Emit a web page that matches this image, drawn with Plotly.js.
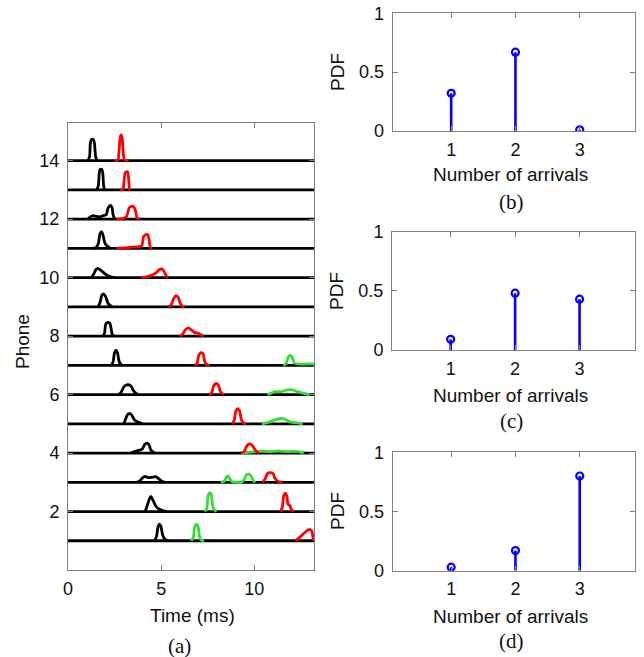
<!DOCTYPE html>
<html><head><meta charset="utf-8">
<script src="https://cdn.plot.ly/plotly-3.0.1.min.js"></script>
<style>html,body{margin:0;padding:0;background:#fff}#chart{width:644px;height:657px}</style>
</head><body><div id="chart"></div><script>
// ---------- Panel (a): pulses per phone, [time ms, amplitude above baseline] ----------
const tMax = 13.2;
const phones = [1,2,3,4,5,6,7,8,9,10,11,12,13,14];
const phoneTicks = [2, 4, 6, 8, 10, 12, 14];
const timeTicks = [0, 5, 10];

const black14 = [[1.08,0],[1.16,0.15],[1.2,0.6],[1.26,0.72],[1.36,0.72],[1.42,0.6],[1.48,0.15],[1.56,0]];
const black13 = [[1.55,0],[1.63,0.15],[1.68,0.6],[1.73,0.7],[1.82,0.7],[1.87,0.55],[1.92,0.1],[1.99,0]];
const black12 = [[1.05,0],[1.2,0.08],[1.35,0.12],[1.5,0.1],[1.7,0.08],[1.9,0.12],[2.05,0.15],[2.15,0.38],[2.28,0.47],[2.36,0.4],[2.43,0.12],[2.52,0]];
const black11 = [[1.3,0],[1.5,0.03],[1.62,0.15],[1.72,0.5],[1.8,0.57],[1.87,0.48],[1.97,0.2],[2.1,0.08],[2.3,0]];
const black10 = [[1.25,0],[1.38,0.12],[1.5,0.28],[1.6,0.32],[1.75,0.26],[1.95,0.15],[2.2,0.05],[2.5,0]];
const black9 = [[1.62,0],[1.72,0.15],[1.82,0.4],[1.92,0.44],[2.02,0.35],[2.15,0.12],[2.32,0.02],[2.4,0]];
const black8 = [[1.88,0],[1.96,0.1],[2.02,0.4],[2.1,0.46],[2.24,0.45],[2.3,0.3],[2.38,0.05],[2.46,0]];
const black7 = [[2.32,0],[2.42,0.12],[2.5,0.45],[2.58,0.52],[2.66,0.42],[2.75,0.12],[2.85,0.03],[2.92,0]];
const black6 = [[2.72,0],[2.85,0.08],[2.98,0.25],[3.1,0.32],[3.28,0.33],[3.4,0.27],[3.55,0.1],[3.75,0]];
const black5 = [[3.0,0],[3.1,0.18],[3.2,0.32],[3.3,0.36],[3.42,0.3],[3.55,0.15],[3.75,0.06],[4.0,0]];
const black4 = [[3.4,0],[3.6,0.06],[3.85,0.1],[4.0,0.15],[4.12,0.3],[4.25,0.34],[4.35,0.28],[4.45,0.1],[4.6,0.02],[4.7,0]];
const black3 = [[3.7,0],[3.85,0.05],[4.0,0.15],[4.14,0.2],[4.3,0.16],[4.5,0.17],[4.7,0.19],[4.85,0.13],[5.0,0.05],[5.2,0]];
const black2 = [[4.15,0],[4.22,0.15],[4.3,0.3],[4.38,0.45],[4.45,0.52],[4.55,0.4],[4.7,0.2],[4.85,0.1],[5.05,0.04],[5.3,0]];
const black1 = [[4.65,0],[4.75,0.15],[4.83,0.48],[4.9,0.57],[4.98,0.5],[5.08,0.2],[5.2,0.05],[5.4,0]];

const red14 = [[2.5,0],[2.68,0.02],[2.74,0.35],[2.8,0.8],[2.85,0.88],[2.9,0.8],[2.96,0.35],[3.02,0.03],[3.25,0]];
const red13 = [[2.8,0],[2.95,0.03],[3.02,0.4],[3.08,0.6],[3.2,0.62],[3.25,0.4],[3.3,0.03],[3.35,0]];
const red12 = [[2.6,0],[3.0,0.03],[3.15,0.1],[3.28,0.38],[3.4,0.44],[3.52,0.42],[3.62,0.3],[3.7,0.05],[3.85,0]];
const red11 = [[2.6,0],[3.2,0.03],[3.6,0.05],[3.95,0.08],[4.05,0.4],[4.15,0.46],[4.28,0.47],[4.35,0.3],[4.42,0.03],[4.5,0]];
const red10 = [[3.95,0],[4.2,0.03],[4.5,0.08],[4.75,0.18],[4.9,0.28],[5.04,0.3],[5.15,0.22],[5.28,0.05],[5.36,0]];
const red9 = [[5.4,0],[5.55,0.08],[5.68,0.3],[5.8,0.38],[5.92,0.32],[6.02,0.12],[6.15,0.02],[6.25,0]];
const red8 = [[6.0,0],[6.15,0.06],[6.3,0.22],[6.47,0.27],[6.65,0.2],[6.8,0.12],[7.0,0.1],[7.15,0.04],[7.28,0]];
const red7 = [[6.8,0],[6.92,0.05],[7.02,0.35],[7.12,0.43],[7.24,0.4],[7.34,0.12],[7.45,0.03],[7.6,0]];
const red6 = [[7.55,0],[7.7,0.05],[7.82,0.3],[7.95,0.38],[8.06,0.33],[8.18,0.1],[8.35,0]];
const red5 = [[8.82,0],[8.92,0.12],[9.0,0.42],[9.1,0.52],[9.2,0.45],[9.3,0.15],[9.4,0.03],[9.55,0]];
const red4 = [[9.3,0],[9.45,0.05],[9.6,0.25],[9.75,0.31],[9.9,0.25],[10.0,0.15],[10.12,0.05],[10.25,0]];
const red3 = [[10.45,0],[10.58,0.12],[10.7,0.3],[10.85,0.33],[11.0,0.3],[11.1,0.15],[11.25,0.04],[11.5,0]];
const red2 = [[11.4,0],[11.5,0.15],[11.58,0.55],[11.67,0.63],[11.75,0.5],[11.8,0.25],[11.9,0.2],[11.98,0.08],[12.08,0]];
const red1 = [[12.2,0],[12.4,0.1],[12.6,0.22],[12.8,0.33],[12.95,0.39],[13.08,0.33],[13.15,0.1],[13.2,0]];

const green7 = [[11.55,0],[11.7,0.06],[11.82,0.28],[11.92,0.35],[12.02,0.28],[12.15,0.08],[12.5,0.04],[12.9,0.05],[13.2,0.04]];
const green6 = [[10.7,0],[10.9,0.05],[11.1,0.1],[11.3,0.1],[11.5,0.11],[11.7,0.15],[11.9,0.17],[12.1,0.15],[12.3,0.1],[12.6,0.05],[12.95,0]];
const green5 = [[10.4,0],[10.7,0.04],[10.95,0.1],[11.2,0.15],[11.45,0.19],[11.7,0.14],[11.95,0.06],[12.3,0.03],[12.6,0]];
const green4 = [[9.3,0],[9.8,0.03],[10.3,0.06],[10.8,0.05],[11.3,0.07],[11.8,0.05],[12.3,0.06],[12.65,0]];
const green3 = [[8.2,0],[8.4,0.04],[8.5,0.18],[8.57,0.22],[8.65,0.15],[8.8,0.02],[9.3,0],[9.45,0.08],[9.58,0.26],[9.7,0.28],[9.82,0.22],[9.95,0.05],[10.05,0]];
const green2 = [[7.35,0],[7.45,0.12],[7.52,0.55],[7.6,0.64],[7.68,0.6],[7.74,0.3],[7.82,0.08],[7.98,0]];
const green1 = [[6.6,0],[6.72,0.1],[6.8,0.48],[6.9,0.57],[6.98,0.5],[7.05,0.15],[7.15,0.02],[7.3,0]];

// ---------- Panels (b)-(d): PDF of number of arrivals ----------
const arrivals = [1, 2, 3];
const pdfB = [0.32, 0.67, 0.01];
const pdfC = [0.09, 0.48, 0.43];
const pdfD = [0.03, 0.17, 0.80];

const blackList = [black1,black2,black3,black4,black5,black6,black7,black8,black9,black10,black11,black12,black13,black14];
const redList = [red1,red2,red3,red4,red5,red6,red7,red8,red9,red10,red11,red12,red13,red14];
const greenList = {1:green1,2:green2,3:green3,4:green4,5:green5,6:green6,7:green7};

const traces = [];
const LW = 2.8;
const lineStyle = (color) => ({color, width: LW, shape:'spline', smoothing:0.6});

// straight baselines
const bx = [], by = [];
phones.forEach(k => { bx.push(0, tMax, null); by.push(k, k, null); });
traces.push({type:'scatter', mode:'lines', xaxis:'x', yaxis:'y', hoverinfo:'skip', showlegend:false,
  x: bx, y: by, line:{color:'#000000', width: LW}});

blackList.forEach((pulse, i) => {
  const k = phones[i];
  traces.push({type:'scatter', mode:'lines', xaxis:'x', yaxis:'y', hoverinfo:'skip', showlegend:false,
    x: pulse.map(p => p[0]), y: pulse.map(p => k + p[1]), line: lineStyle('#000000')});
});
Object.keys(greenList).forEach(key => {
  const k = +key, pulse = greenList[key];
  traces.push({type:'scatter', mode:'lines', xaxis:'x', yaxis:'y', hoverinfo:'skip', showlegend:false,
    x: pulse.map(p => p[0]), y: pulse.map(p => k + p[1]), line: lineStyle('#33dd33')});
});
redList.forEach((pulse, i) => {
  const k = phones[i];
  traces.push({type:'scatter', mode:'lines', xaxis:'x', yaxis:'y', hoverinfo:'skip', showlegend:false,
    x: pulse.map(p => p[0]), y: pulse.map(p => k + p[1]), line: lineStyle('#ff0000')});
});

function stems(vals, xa, ya) {
  const sx = [], sy = [];
  arrivals.forEach((a, i) => { sx.push(a, a, null); sy.push(0, vals[i], null); });
  traces.push({type:'scatter', mode:'lines', xaxis:xa, yaxis:ya, x:sx, y:sy, showlegend:false,
    line:{color:'#0000ff', width:2.6}, hoverinfo:'skip'});
  traces.push({type:'scatter', mode:'markers', xaxis:xa, yaxis:ya, x:arrivals, y:vals, showlegend:false,
    marker:{symbol:'circle-open', size:7, color:'#0000ff', line:{width:2.2, color:'#0000ff'}}});
}
stems(pdfB, 'x2', 'y2');
stems(pdfC, 'x3', 'y3');
stems(pdfD, 'x4', 'y4');

const W = 644, H = 657;
const sans = '"Liberation Sans", Arial, sans-serif';
const serif = '"Liberation Serif", "Times New Roman", serif';
const txt = '#111111';
const axCommon = {showline:true, linecolor:'#808080', linewidth:1, mirror:'ticks', ticks:'inside',
  ticklen:5, tickcolor:'#808080', showgrid:false, zeroline:false, fixedrange:true,
  tickfont:{family:sans, size:18, color:txt}};
const px = v => v / W, py = v => 1 - v / H;

const stemX = (dom) => Object.assign({}, axCommon, {domain:dom, range:[0.09, 3.86], tickvals:arrivals, ticklabelstandoff:2});
const stemY = (dom) => Object.assign({}, axCommon, {domain:dom, range:[0, 1], tickvals:[0, 0.5, 1], ticktext:['0','0.5','1'], ticklabelstandoff:4});

const ann = (text, x, y, opts) => Object.assign({text, xref:'paper', yref:'paper', x:px(x), y:py(y),
  xanchor:'center', yanchor:'middle', showarrow:false, font:{family:sans, size:19, color:txt}}, opts || {});

const layout = {
  width:W, height:H, margin:{l:0, r:0, t:0, b:0}, paper_bgcolor:'#ffffff', plot_bgcolor:'#ffffff',
  xaxis: Object.assign({}, axCommon, {domain:[px(68), px(314)], range:[0, tMax], tickvals:timeTicks, ticklabelstandoff:2}),
  yaxis: Object.assign({}, axCommon, {domain:[py(570), py(123)], range:[0, 15.29], tickvals:phoneTicks, ticklabelstandoff:4}),
  xaxis2: stemX([px(392.7), px(635)]), yaxis2: Object.assign(stemY([py(131), py(13.3)]), {anchor:'x2'}),
  xaxis3: stemX([px(392), px(635)]), yaxis3: Object.assign(stemY([py(350), py(231.7)]), {anchor:'x3'}),
  xaxis4: stemX([px(392.7), px(635)]), yaxis4: Object.assign(stemY([py(570.7), py(452.3)]), {anchor:'x4'}),
  annotations: [
    ann('Phone', 22, 342, {textangle:-90}),
    ann('Time (ms)', 192, 615),
    ann('(a)', 180, 646, {font:{family:serif, size:21, color:txt}}),
    ann('PDF', 337, 72, {textangle:-90}),
    ann('Number of arrivals', 510, 174),
    ann('(b)', 512, 202, {font:{family:serif, size:21, color:txt}}),
    ann('PDF', 337, 291, {textangle:-90}),
    ann('Number of arrivals', 510, 395),
    ann('(c)', 512, 421, {font:{family:serif, size:21, color:txt}}),
    ann('PDF', 337, 511, {textangle:-90}),
    ann('Number of arrivals', 510, 616),
    ann('(d)', 512, 641, {font:{family:serif, size:21, color:txt}})
  ]
};
layout.xaxis2.anchor = 'y2'; layout.xaxis3.anchor = 'y3'; layout.xaxis4.anchor = 'y4';
layout.xaxis.anchor = 'y'; layout.yaxis.anchor = 'x';

Plotly.newPlot('chart', traces, layout, {staticPlot:true, displayModeBar:false});
</script></body></html>
